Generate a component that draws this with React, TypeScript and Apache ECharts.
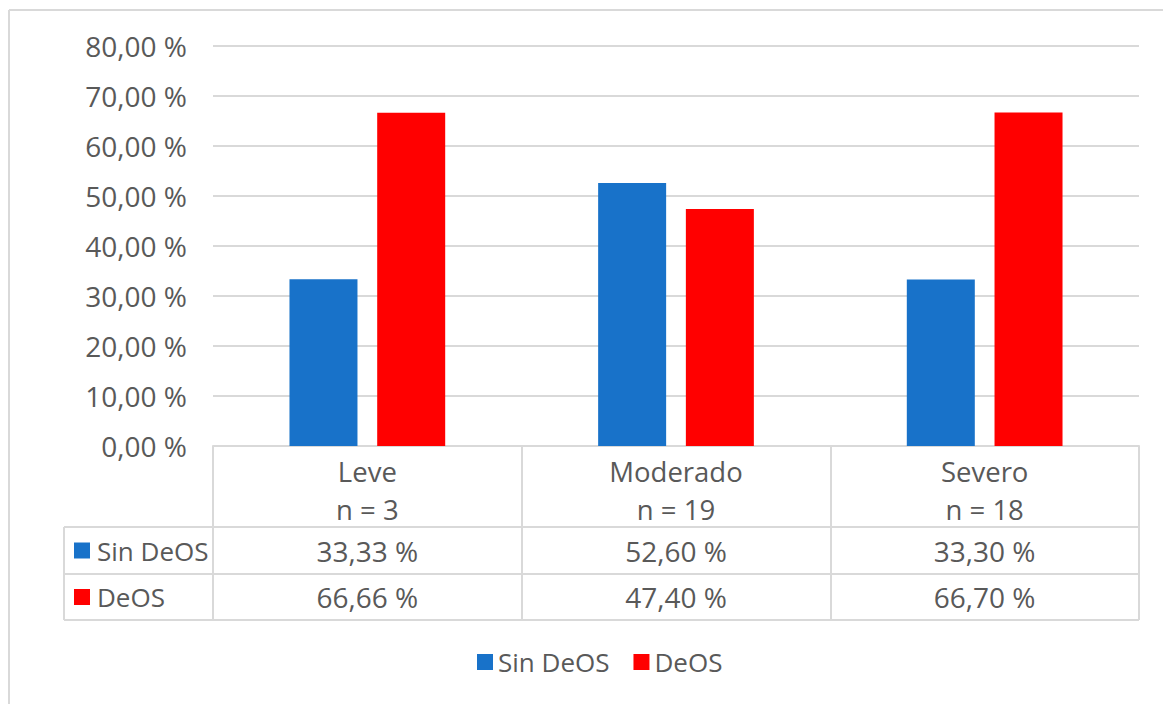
import React, { useEffect, useRef } from "react";
import * as echarts from "echarts";

const categories = ["Leve", "Moderado", "Severo"];
const sampleSizes = [3, 19, 18];
const seriesNames = ["Sin DeOS", "DeOS"];
const sinDeOS = [33.33, 52.6, 33.3];
const deOS = [66.66, 47.4, 66.7];
const colors = ["#1872C9", "#FF0000"];

const FONT = "Open Sans";
const TEXT = "#595959";
const LINE = "#D9D9D9";
const FS = 26;
const FS_NUM = 28;
const FS_HEAD = 27.5;

const fmt = (v: number) => v.toFixed(2).replace(".", ",") + " %";

export default function App() {
  const ref = useRef<HTMLDivElement>(null);
  useEffect(() => {
    document.body.style.margin = "0";
    const chart = echarts.init(ref.current!, null, { renderer: "svg" });
    const gridLeft = 213;
    const gridRight = 24;
    const gridTop = 46;
    const gridBottom = 258;
    chart.setOption({
      animation: false,
      backgroundColor: "#fff",
      textStyle: { fontFamily: FONT },
      grid: { left: gridLeft, right: gridRight, top: gridTop, bottom: gridBottom, containLabel: false },
      legend: {
        bottom: 24,
        left: 472,
        icon: "rect",
        itemWidth: 16,
        itemHeight: 16,
        itemGap: 24,
        textStyle: { fontFamily: FONT, fontSize: FS, color: TEXT },
        data: seriesNames,
      },
      xAxis: {
        type: "category",
        data: categories,
        axisLine: { show: true, lineStyle: { color: LINE, width: 2 } },
        axisTick: { show: true, interval: 0, length: 174, lineStyle: { color: LINE, width: 2 } },
        axisLabel: {
          interval: 0,
          margin: 6,
          fontFamily: FONT,
          fontSize: FS_HEAD,
          color: TEXT,
          lineHeight: 38,
          formatter: (v: string, i: number) => `${v}\nn = ${sampleSizes[i]}`,
        },
      },
      yAxis: {
        type: "value",
        min: 0,
        max: 80,
        interval: 10,
        axisLine: { show: false },
        axisTick: { show: false },
        splitLine: { lineStyle: { color: LINE, width: 2 } },
        axisLabel: { margin: 26, fontFamily: FONT, fontSize: FS_NUM, color: TEXT, formatter: (v: number) => fmt(v) },
      },
      series: [
        { name: seriesNames[0], type: "bar", data: sinDeOS, barWidth: 68, barGap: "29%", itemStyle: { color: colors[0] } },
        { name: seriesNames[1], type: "bar", data: deOS, barWidth: 68, barGap: "29%", itemStyle: { color: colors[1] } },
      ],
    });

    const y0 = chart.convertToPixel({ yAxisIndex: 0 }, 0) as number;
    const xs = categories.map((c) => chart.convertToPixel({ xAxisIndex: 0 }, c) as number);
    const W = 1163;
    const xRight = W - gridRight;
    const tableLeft = 64;
    const r1 = y0 + 81;
    const r2 = y0 + 128;
    const r3 = y0 + 174;
    const rows = [sinDeOS, deOS];
    const rowTops = [r1, r2];
    const rowBottoms = [r2, r3];
    const g: any[] = [];
    const ls = { stroke: LINE, lineWidth: 2 };
    [r1, r2, r3].forEach((y) =>
      g.push({ type: "line", shape: { x1: tableLeft, y1: y, x2: xRight, y2: y }, style: ls, silent: true })
    );
    g.push({ type: "line", shape: { x1: tableLeft, y1: r1, x2: tableLeft, y2: r3 }, style: ls, silent: true });
    rows.forEach((row, ri) => {
      const cy = (rowTops[ri] + rowBottoms[ri]) / 2;
      g.push({ type: "rect", shape: { x: tableLeft + 10, y: cy - 8, width: 16, height: 16 }, style: { fill: colors[ri] }, silent: true });
      g.push({
        type: "text",
        x: tableLeft + 33,
        y: cy,
        style: { text: seriesNames[ri], font: `${FS}px "${FONT}"`, fill: TEXT, verticalAlign: "middle", align: "left" },
        silent: true,
      });
      row.forEach((v, ci) => {
        g.push({
          type: "text",
          x: xs[ci],
          y: cy,
          style: { text: fmt(v), font: `${FS_NUM}px "${FONT}"`, fill: TEXT, verticalAlign: "middle", align: "center" },
          silent: true,
        });
      });
    });
    g.push({ type: "line", shape: { x1: 9, y1: 10, x2: W, y2: 10 }, style: ls, silent: true });
    g.push({ type: "line", shape: { x1: 9, y1: 10, x2: 9, y2: 704 }, style: ls, silent: true });
    chart.setOption({ graphic: g });
    return () => chart.dispose();
  }, []);
  return <div ref={ref} style={{ width: 1163, height: 704 }} />;
}
